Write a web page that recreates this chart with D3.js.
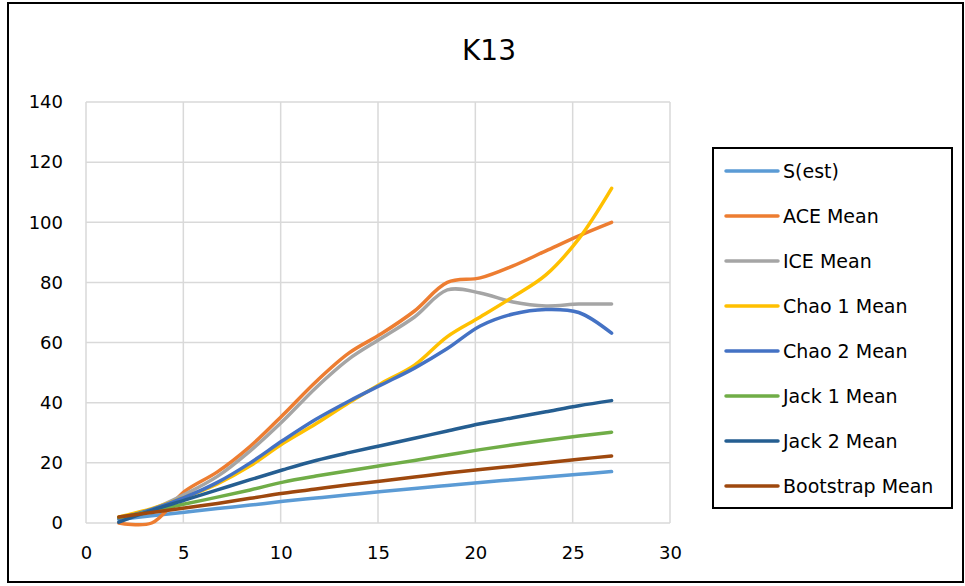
<!DOCTYPE html>
<html><head><meta charset="utf-8">
<script src="https://cdn.jsdelivr.net/npm/d3@7"></script>
<style>body{margin:0;background:#fff}svg{display:block}text{font-family:"DejaVu Sans",Arial,sans-serif;fill:#000}</style>
</head><body>
<script>
const title = "K13";
const xValues = [1.6875,3.375,5.0625,6.75,8.4375,10.125,11.8125,13.5,15.1875,16.875,18.5625,20.25,21.9375,23.625,25.3125,27];
const seriesNames = ["S(est)","ACE Mean","ICE Mean","Chao 1 Mean","Chao 2 Mean","Jack 1 Mean","Jack 2 Mean","Bootstrap Mean"];
const seriesColors = ["#5B9BD5","#ED7D31","#A5A5A5","#FFC000","#4472C4","#70AD47","#255E91","#9E480E"];
const sEst      = [1.2,2.4,3.6,4.8,5.95,7.2,8.3,9.4,10.5,11.5,12.5,13.5,14.4,15.3,16.2,17.1];
const aceMean   = [0,0,10.5,17,25.5,36,47,56.5,63,70.5,80,81.5,85.5,90.5,95.5,100];
const iceMean   = [1.5,4.5,9.5,15.5,24,34,45,54.5,61.5,68.5,77.5,76.5,73.5,72.2,72.8,72.8];
const chao1Mean = [2,4.8,8.5,13,19,26.5,33,40,46.5,52.5,62,68.5,75.2,82.5,94.5,111.3];
const chao2Mean = [1.5,4.5,8.5,13.5,20,27.5,34.5,40.5,46,51.5,58,65.5,69.5,71,70,63.1];
const jack1Mean = [1.8,3.9,6.3,8.6,11,13.6,15.6,17.4,19.1,20.8,22.6,24.4,26,27.5,28.9,30.2];
const jack2Mean = [0.3,4.2,7.6,11,14.4,17.7,20.8,23.4,25.8,28.2,30.6,33,35,37,39,40.7];
const bootMean  = [2,3.5,5,6.5,8.2,9.9,11.3,12.7,14,15.3,16.6,17.8,18.9,20,21.2,22.3];
const seriesValues = [sEst,aceMean,iceMean,chao1Mean,chao2Mean,jack1Mean,jack2Mean,bootMean];
const xTicks = [0,5,10,15,20,25,30];
const yTicks = [0,20,40,60,80,100,120,140];

const W=965,H=586;
const svg=d3.select("body").append("svg").attr("width",W).attr("height",H);
svg.append("rect").attr("x",8).attr("y",3).attr("width",955).attr("height",579)
  .attr("fill","#fff").attr("stroke","#000").attr("stroke-width",2);

const x=d3.scaleLinear().domain([0,30]).range([86,670]);
const y=d3.scaleLinear().domain([0,140]).range([523,102]);

// gridlines
const g=svg.append("g");
g.selectAll("line.v").data(xTicks).join("line")
  .attr("x1",d=>x(d)).attr("x2",d=>x(d)).attr("y1",y(0)).attr("y2",y(140))
  .attr("stroke","#d9d9d9").attr("stroke-width",1.5);
g.selectAll("line.h").data(yTicks).join("line")
  .attr("x1",x(0)).attr("x2",x(30)).attr("y1",d=>y(d)).attr("y2",d=>y(d))
  .attr("stroke","#d9d9d9").attr("stroke-width",1.5);

// axes
const xAxis=svg.append("g").attr("transform",`translate(0,${y(0)})`)
  .call(d3.axisBottom(x).tickValues(xTicks).tickSize(0).tickPadding(23));
xAxis.select(".domain").remove();
xAxis.selectAll("text").style("font-size","18px").style("font-family","'DejaVu Sans',sans-serif");
const yAxis=svg.append("g").attr("transform",`translate(${x(0)},0)`)
  .call(d3.axisLeft(y).tickValues(yTicks).tickSize(0).tickPadding(23));
yAxis.select(".domain").remove();
yAxis.selectAll("text").style("font-size","18px").style("font-family","'DejaVu Sans',sans-serif");

// lines
const line=d3.line().x((d,i)=>x(xValues[i])).y(d=>y(d)).curve(d3.curveCatmullRom.alpha(0.5));
svg.append("g").selectAll("path").data(seriesValues).join("path")
  .attr("d",d=>line(d)).attr("fill","none")
  .attr("stroke",(d,i)=>seriesColors[i]).attr("stroke-width",3.5)
  .attr("stroke-linecap","round").attr("stroke-linejoin","round");

// title
svg.append("text").attr("x",489).attr("y",60).attr("text-anchor","middle")
  .style("font-size","28px").text(title);

// legend
const lg=svg.append("g");
lg.append("rect").attr("x",713).attr("y",148).attr("width",239).attr("height",360)
  .attr("fill","#fff").attr("stroke","#000").attr("stroke-width",2);
const items=lg.selectAll("g").data(seriesNames).join("g")
  .attr("transform",(d,i)=>`translate(0,${171+i*45})`);
items.append("line").attr("x1",726).attr("x2",778).attr("y1",0).attr("y2",0)
  .attr("stroke",(d,i)=>seriesColors[i]).attr("stroke-width",3.5).attr("stroke-linecap","round");
items.append("text").attr("x",783).attr("y",7).style("font-size","19px").text(d=>d);
</script>
</body></html>
